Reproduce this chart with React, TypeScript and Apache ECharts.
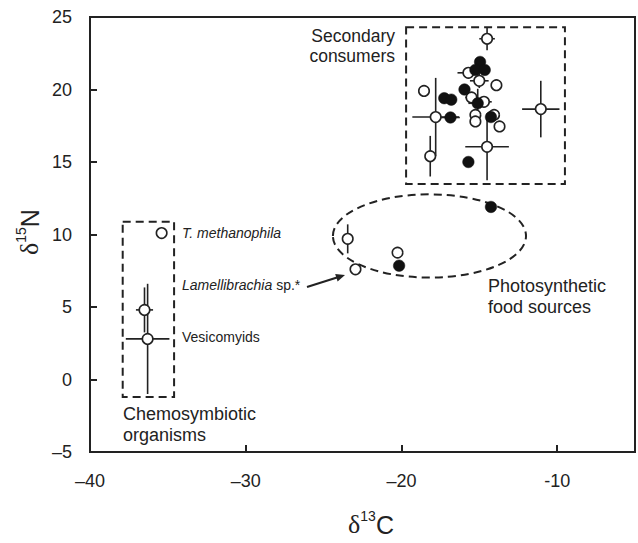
import React, { useEffect, useRef } from "react";
import * as echarts from "echarts";

// [δ13C, δ15N, xErr, yErr]
const chemoOpen: number[][] = [
  [-36.5, 4.8, 0.55, 1.55],
  [-36.3, 2.8, 1.4, 3.8],
  [-35.4, 10.1, 0, 0],
];
const photoOpen: number[][] = [
  [-23.45, 9.7, 0, 1.0],
  [-22.95, 7.6, 0, 0],
  [-20.25, 8.75, 0, 0],
];
const photoFilled: number[][] = [
  [-20.15, 7.85, 0, 0],
  [-14.25, 11.9, 0, 0],
];
const secondaryOpen: number[][] = [
  [-14.5, 23.5, 0.5, 0.8],
  [-15.7, 21.15, 0.7, 0],
  [-15.0, 20.6, 0.6, 0.5],
  [-13.9, 20.3, 0, 0],
  [-18.55, 19.9, 0, 0],
  [-15.5, 19.45, 0.4, 0],
  [-14.7, 19.15, 0.5, 0],
  [-17.8, 18.1, 1.5, 2.7],
  [-15.25, 18.25, 0, 0],
  [-15.25, 17.8, 0, 0],
  [-14.05, 18.25, 0, 0],
  [-13.7, 17.45, 0, 0],
  [-11.05, 18.65, 1.2, 1.95],
  [-14.5, 16.05, 1.4, 2.3],
  [-18.15, 15.4, 0, 1.4],
];
const secondaryFilled: number[][] = [
  [-14.95, 21.9, 0, 0],
  [-15.25, 21.35, 0, 0],
  [-14.65, 21.35, 0, 0],
  [-15.95, 20.0, 0, 0],
  [-17.25, 19.4, 0, 0],
  [-16.8, 19.3, 0, 0],
  [-15.1, 19.05, 0.6, 1.0],
  [-16.85, 18.07, 0.6, 0],
  [-14.25, 18.1, 0, 0],
  [-15.7, 15.0, 0, 0],
];
// group outlines: boxes [x1, y1, x2, y2], ellipse [cx, cy, rx, ry]
const groupBoxes: number[][] = [
  [-37.9, -1.2, -34.6, 10.88],
  [-19.7, 13.48, -9.5, 24.3],
];
const groupEllipses: number[][] = [[-18.2, 9.9, 6.2, 2.87]];

const xTicks = { min: -40, max: -5, interval: 10 };
const yTicks = { min: -5, max: 25, interval: 5 };

const sans = '"Liberation Sans", Arial, Helvetica, sans-serif';
const serif = '"Liberation Serif", "Times New Roman", serif';
const ink = "#222";

const fmtX = (v: number) => {
  if (v === -5) return "";
  if (v === -10) return "-10";
  return String(v).replace("-", "\u2013");
};
const fmtY = (v: number) => String(v).replace("-", "\u2013");

const titleRich = {
  d: { fontSize: 26, fontFamily: serif, color: ink, fill: ink, lineHeight: 28, verticalAlign: "bottom" },
  s: { fontSize: 14, fontFamily: sans, color: ink, fill: ink, verticalAlign: "top", lineHeight: 14 },
  c: { fontSize: 25, fontFamily: sans, color: ink, fill: ink, lineHeight: 28, verticalAlign: "bottom" },
};

export default function App() {
  const ref = useRef<HTMLDivElement>(null);
  useEffect(() => {
    if (!ref.current) return;
    const chart = echarts.init(ref.current, null, { renderer: "svg" });
    const openAll = [...chemoOpen, ...photoOpen, ...secondaryOpen];
    const filledAll = [...photoFilled, ...secondaryFilled];
    const withErr = [...openAll, ...filledAll].filter((d) => d[2] > 0 || d[3] > 0);

    const option: any = {
      animation: false,
      grid: {
        left: 90,
        right: 2,
        top: 17,
        bottom: 91,
        show: true,
        borderColor: ink,
        borderWidth: 2,
        backgroundColor: "transparent",
      },
      xAxis: {
        type: "value",
        min: xTicks.min,
        max: xTicks.max,
        interval: xTicks.interval,
        splitLine: { show: false },
        axisLine: { show: true, onZero: false, lineStyle: { color: ink, width: 2 } },
        axisTick: { show: true, inside: true, length: 7, lineStyle: { color: ink, width: 2 } },
        axisLabel: { margin: 20, fontSize: 18, color: ink, fontFamily: sans, formatter: fmtX },
      },
      yAxis: {
        type: "value",
        min: yTicks.min,
        max: yTicks.max,
        interval: yTicks.interval,
        splitLine: { show: false },
        axisLine: { show: true, onZero: false, lineStyle: { color: ink, width: 2 } },
        axisTick: { show: true, inside: true, length: 7, lineStyle: { color: ink, width: 2 } },
        axisLabel: { margin: 18, fontSize: 18, color: ink, fontFamily: sans, formatter: fmtY },
      },
      series: [
        {
          type: "custom",
          z: 1,
          silent: true,
          data: groupBoxes,
          renderItem: (params: any, api: any) => {
            const p1 = api.coord([api.value(0), api.value(1)]);
            const p2 = api.coord([api.value(2), api.value(3)]);
            return {
              type: "rect",
              shape: {
                x: Math.min(p1[0], p2[0]),
                y: Math.min(p1[1], p2[1]),
                width: Math.abs(p2[0] - p1[0]),
                height: Math.abs(p2[1] - p1[1]),
              },
              style: { fill: "none", stroke: ink, lineWidth: 2, lineDash: [8, 5] },
            };
          },
        },
        {
          type: "custom",
          z: 1,
          silent: true,
          data: groupEllipses,
          renderItem: (params: any, api: any) => {
            const c = api.coord([api.value(0), api.value(1)]);
            const e = api.coord([api.value(0) + api.value(2), api.value(1) + api.value(3)]);
            return {
              type: "ellipse",
              shape: { cx: c[0], cy: c[1], rx: Math.abs(e[0] - c[0]), ry: Math.abs(e[1] - c[1]) },
              style: { fill: "none", stroke: ink, lineWidth: 2, lineDash: [8, 5] },
            };
          },
        },
        {
          type: "custom",
          z: 2,
          silent: true,
          data: withErr,
          renderItem: (params: any, api: any) => {
            const x = api.value(0);
            const y = api.value(1);
            const xe = api.value(2);
            const ye = api.value(3);
            const children: any[] = [];
            const st = { stroke: ink, lineWidth: 1.6 };
            if (xe > 0) {
              const a = api.coord([x - xe, y]);
              const b = api.coord([x + xe, y]);
              children.push({ type: "line", shape: { x1: a[0], y1: a[1], x2: b[0], y2: b[1] }, style: st });
            }
            if (ye > 0) {
              const a = api.coord([x, y - ye]);
              const b = api.coord([x, y + ye]);
              children.push({ type: "line", shape: { x1: a[0], y1: a[1], x2: b[0], y2: b[1] }, style: st });
            }
            return { type: "group", children };
          },
        },
        {
          type: "scatter",
          z: 3,
          symbol: "circle",
          symbolSize: 10.5,
          data: openAll.map((d) => [d[0], d[1]]),
          itemStyle: { color: "#fff", borderColor: ink, borderWidth: 1.6, opacity: 1 },
        },
        {
          type: "scatter",
          z: 4,
          symbol: "circle",
          symbolSize: 11.5,
          data: filledAll.map((d) => [d[0], d[1]]),
          itemStyle: { color: "#111", borderColor: "#111", borderWidth: 0.5, opacity: 1 },
        },
      ],
      graphic: [
        {
          type: "text",
          x: 395,
          y: 26,
          style: {
            text: "Secondary\nconsumers",
            font: `17.5px ${sans}`,
            fill: ink,
            align: "right",
            verticalAlign: "top",
            lineHeight: 20,
          },
        },
        {
          type: "text",
          x: 123,
          y: 403,
          style: {
            text: "Chemosymbiotic\norganisms",
            font: `18px ${sans}`,
            fill: ink,
            align: "left",
            verticalAlign: "top",
            lineHeight: 21,
          },
        },
        {
          type: "text",
          x: 488,
          y: 275,
          style: {
            text: "Photosynthetic\nfood sources",
            font: `18px ${sans}`,
            fill: ink,
            align: "left",
            verticalAlign: "top",
            lineHeight: 21,
          },
        },
        {
          type: "text",
          x: 182,
          y: 233,
          style: {
            text: "T. methanophila",
            font: `italic 14px ${sans}`,
            fill: ink,
            align: "left",
            verticalAlign: "middle",
          },
        },
        {
          type: "text",
          x: 182,
          y: 285,
          style: {
            text: "{i|Lamellibrachia}{n| sp.*}",
            align: "left",
            verticalAlign: "middle",
            rich: {
              i: { fontStyle: "italic", fontSize: 14, fontFamily: sans, fill: ink, color: ink },
              n: { fontSize: 14, fontFamily: sans, fill: ink, color: ink },
            },
          },
        },
        {
          type: "text",
          x: 182,
          y: 337,
          style: {
            text: "Vesicomyids",
            font: `14px ${sans}`,
            fill: ink,
            align: "left",
            verticalAlign: "middle",
          },
        },
        {
          type: "line",
          shape: { x1: 307, y1: 287, x2: 337, y2: 277.5 },
          style: { stroke: ink, lineWidth: 2.2 },
        },
        {
          type: "polygon",
          shape: { points: [[345, 275], [337.6, 281.5], [335.2, 273.9]] },
          style: { fill: ink },
        },
        // x-axis title δ13C
        {
          type: "text",
          x: 371,
          y: 523,
          style: {
            text: "{d|δ}{s|13}{c|C}",
            align: "center",
            verticalAlign: "middle",
            rich: titleRich,
          },
        },
        // y-axis title δ15N
        {
          type: "text",
          x: 28,
          y: 232,
          rotation: Math.PI / 2,
          style: {
            text: "{d|δ}{s|15}{c|N}",
            align: "center",
            verticalAlign: "middle",
            rich: titleRich,
          },
        },
      ],
    };
    chart.setOption(option);
    return () => chart.dispose();
  }, []);
  return <div ref={ref} style={{ width: 638, height: 543, position: "absolute", left: 0, top: 0, background: "#fff" }} />;
}
